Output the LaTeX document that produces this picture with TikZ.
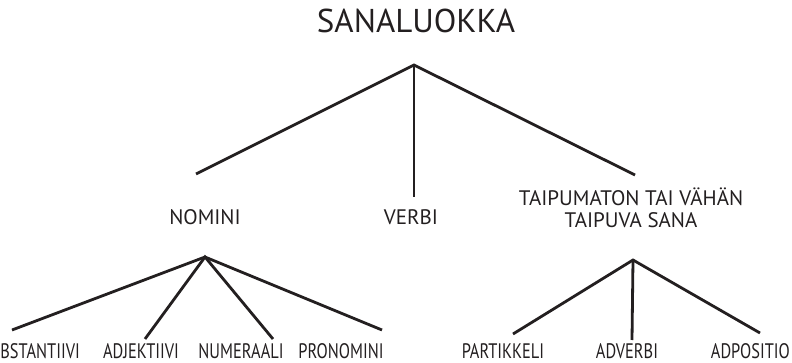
\documentclass[tikz,border=0pt]{standalone}
\usepackage{fontspec}
\setmainfont{PT Sans}
\definecolor{ink}{RGB}{35,31,32}
\begin{document}
\begin{tikzpicture}[x=1pt,y=-1pt,
  conn/.style={draw=ink, line width=2.8pt},
  lbl/.style={inner sep=0pt, anchor=base, text=ink, font=\fontsize{21}{25}\selectfont},
  leaf/.style={lbl, xscale=0.78},
  ttl/.style={inner sep=0pt, anchor=base, text=ink, font=\fontsize{33}{38}\selectfont}]
\useasboundingbox (0,0) rectangle (792,363);
% titles
\node[ttl] (root) at (416,33) {SANALUOKKA};
\node[lbl] (nomini) at (205,225) {NOMINI};
\node[lbl] (verbi) at (411,225) {VERBI};
\node[lbl, align=center, font=\fontsize{21}{22}\selectfont] (taip) at (631,228) {TAIPUMATON TAI VÄHÄN\\TAIPUVA SANA};
\node[leaf, anchor=base east] (subst) at (80,358) {SUBSTANTIIVI};
\node[leaf] (adj) at (141,358) {ADJEKTIIVI};
\node[leaf] (num) at (241,358) {NUMERAALI};
\node[leaf] (pron) at (341,358) {PRONOMINI};
\node[leaf] (part) at (503,358) {PARTIKKELI};
\node[leaf] (adv) at (627,358) {ADVERBI};
\node[leaf, anchor=base east] (adpo) at (790,358) {ADPOSITIO};
% junctions
\coordinate (rA) at (414,65);
\coordinate (rL) at (196,174);
\coordinate (rM) at (414,197);
\coordinate (rR) at (635,175);
\coordinate (nA) at (205,257);
\coordinate (n1) at (12,330);
\coordinate (n2) at (145,339);
\coordinate (n3) at (273,339);
\coordinate (n4) at (382,330);
\coordinate (tA) at (633,260);
\coordinate (t1) at (513,334);
\coordinate (t2) at (632,340);
\coordinate (t3) at (760,333);
\draw[conn] (rL) -- (rA) -- (rR);
\draw[conn] (rA) -- (rM);
\draw[conn] (n1) -- (nA) -- (n4);
\draw[conn] (n2) -- (nA) -- (n3);
\draw[conn] (t1) -- (tA) -- (t3);
\draw[conn] (tA) -- (t2);
\end{tikzpicture}
\end{document}
